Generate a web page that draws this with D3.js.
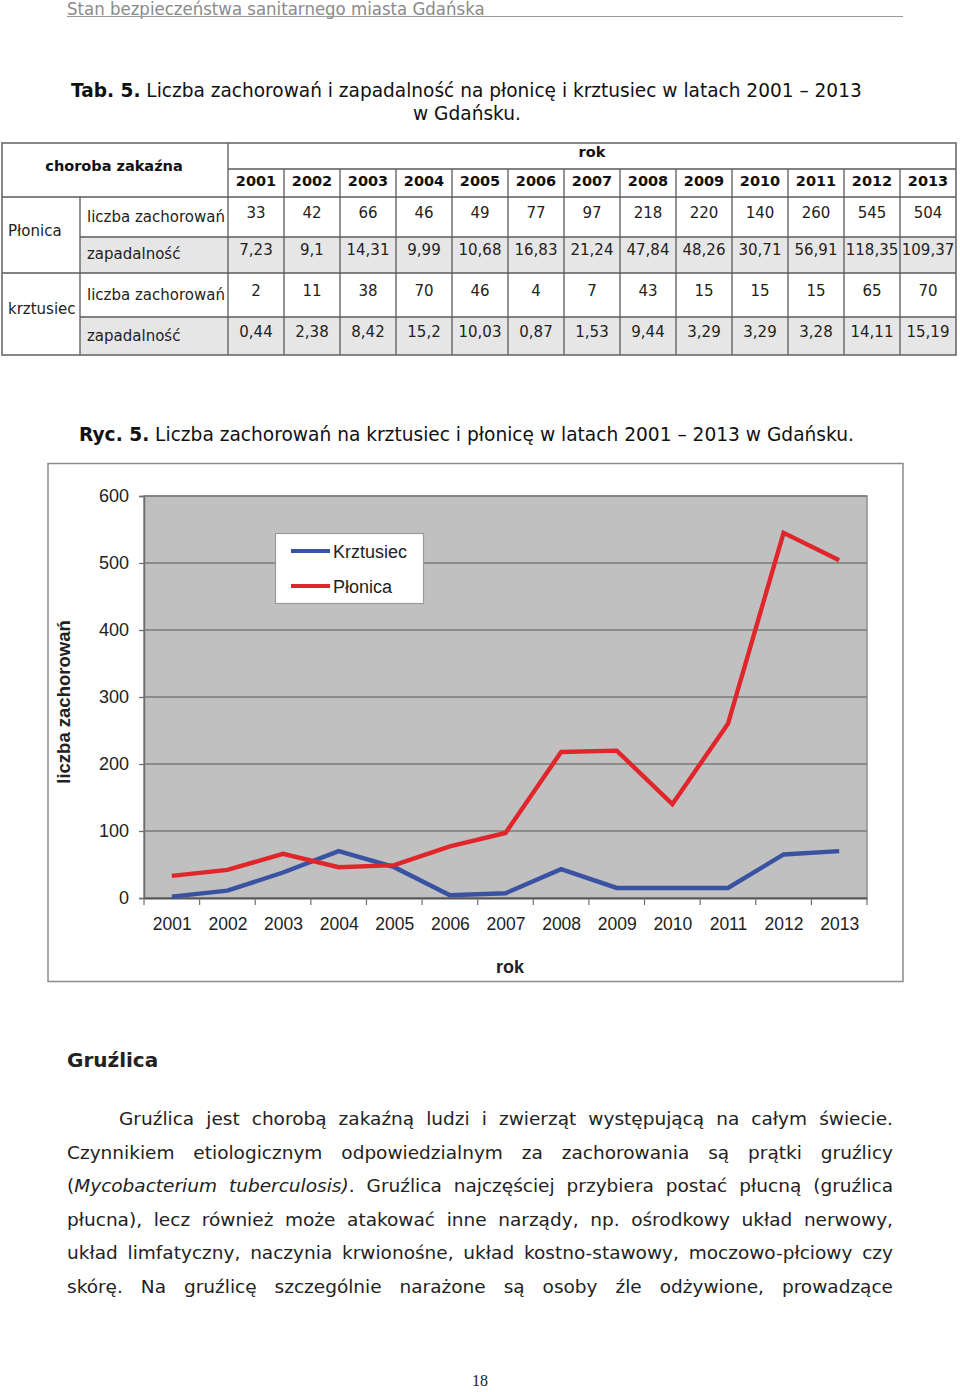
<!DOCTYPE html>
<html><head><meta charset="utf-8">
<script src="https://cdn.jsdelivr.net/npm/d3@7"></script>
<style>html,body{margin:0;padding:0;background:#fff}svg{display:block}</style>
</head><body>
<script>
// ---------- DATA ----------
const years = [2001,2002,2003,2004,2005,2006,2007,2008,2009,2010,2011,2012,2013];
const plonicaCases = [33,42,66,46,49,77,97,218,220,140,260,545,504];
const plonicaRate = ["7,23","9,1","14,31","9,99","10,68","16,83","21,24","47,84","48,26","30,71","56,91","118,35","109,37"];
const krztusiecCases = [2,11,38,70,46,4,7,43,15,15,15,65,70];
const krztusiecRate = ["0,44","2,38","8,42","15,2","10,03","0,87","1,53","9,44","3,29","3,29","3,28","14,11","15,19"];
const yTicks = [0,100,200,300,400,500,600];
const seriesNames = ["Krztusiec","Płonica"];
const seriesColors = ["#3a52a2","#e0262b"];
const paragraph = [
  [{t:"Gruźlica jest chorobą zakaźną ludzi i zwierząt występującą na całym świecie."}],
  [{t:"Czynnikiem etiologicznym odpowiedzialnym za zachorowania są prątki gruźlicy"}],
  [{t:"("},{t:"Mycobacterium tuberculosis)",i:true},{t:". Gruźlica najczęściej przybiera postać płucną (gruźlica",glue:true}],
  [{t:"płucna), lecz również może atakować inne narządy, np. ośrodkowy układ nerwowy,"}],
  [{t:"układ limfatyczny, naczynia krwionośne, układ kostno-stawowy, moczowo-płciowy czy"}],
  [{t:"skórę. Na gruźlicę szczególnie narażone są osoby źle odżywione, prowadzące"}]
];

const W=960,H=1392;
const svg=d3.select("body").append("svg").attr("width",W).attr("height",H);
const verd='"DejaVu Sans", Verdana, sans-serif';
const arial='"Liberation Sans", Arial, sans-serif';

function fitWidth(sel,x0,target){
  const w=sel.node().getBBox().width;
  const s=target/w;
  sel.attr("transform",`translate(${x0},0) scale(${s},1) translate(${-x0},0)`);
}

// ---------- header ----------
const hdr=svg.append("text").attr("x",67).attr("y",15).attr("font-family",verd).attr("font-size",17).attr("fill","#8a8a8a").text("Stan bezpieczeństwa sanitarnego miasta Gdańska");
fitWidth(hdr,67,418);
svg.append("line").attr("x1",67).attr("x2",903).attr("y1",16.5).attr("y2",16.5).attr("stroke","#9a9a9a").attr("stroke-width",1.2);

// ---------- table title ----------
const t1=svg.append("text").attr("x",71).attr("y",97).attr("font-family",verd).attr("font-size",19).attr("fill","#111");
t1.append("tspan").attr("font-weight","bold").text("Tab. 5.");
t1.append("tspan").text(" Liczba zachorowań i zapadalność na płonicę i krztusiec w latach 2001 – 2013");
fitWidth(t1,71,791);
const t2=svg.append("text").attr("x",413).attr("y",120).attr("font-family",verd).attr("font-size",19).attr("fill","#111").text("w Gdańsku.");
fitWidth(t2,413,108);

// ---------- table ----------
const tb=svg.append("g");
const colX=d3.scaleBand().domain(years).range([228,956]);
const lineC="#5a5a5a";
[[237,273],[317,355]].forEach(r=>{
  tb.append("rect").attr("x",80).attr("y",r[0]).attr("width",956-80).attr("height",r[1]-r[0]).attr("fill","#e6e6e6");
});
const hl=[[228,956,169],[2,956,197],[80,956,237],[2,956,273],[80,956,317]];
hl.forEach(l=>tb.append("line").attr("x1",l[0]).attr("x2",l[1]).attr("y1",l[2]).attr("y2",l[2]).attr("stroke",lineC).attr("stroke-width",1.3));
tb.append("line").attr("x1",80).attr("x2",80).attr("y1",197).attr("y2",355).attr("stroke",lineC).attr("stroke-width",1.3);
tb.append("line").attr("x1",228).attr("x2",228).attr("y1",143).attr("y2",355).attr("stroke",lineC).attr("stroke-width",1.3);
years.slice(1).forEach(y=>tb.append("line").attr("x1",colX(y)).attr("x2",colX(y)).attr("y1",169).attr("y2",355).attr("stroke",lineC).attr("stroke-width",1.3));
tb.append("rect").attr("x",2).attr("y",143).attr("width",954).attr("height",212).attr("fill","none").attr("stroke","#6a6a6a").attr("stroke-width",1.6);
tb.append("text").attr("x",114).attr("y",171).attr("text-anchor","middle").attr("font-family",verd).attr("font-weight","bold").attr("font-size",14.5).attr("fill","#111").text("choroba zakaźna");
tb.append("text").attr("x",592).attr("y",157).attr("text-anchor","middle").attr("font-family",verd).attr("font-weight","bold").attr("font-size",14.5).attr("fill","#111").text("rok");
tb.selectAll("text.yr").data(years).join("text").attr("class","yr").attr("x",d=>colX(d)+colX.bandwidth()/2).attr("y",186)
  .attr("text-anchor","middle").attr("font-family",verd).attr("font-weight","bold").attr("font-size",14.5).attr("fill","#111").text(d=>d);
tb.append("text").attr("x",8).attr("y",236).attr("font-family",verd).attr("font-size",15).attr("fill","#222").text("Płonica");
tb.append("text").attr("x",8).attr("y",314).attr("font-family",verd).attr("font-size",15).attr("fill","#222").text("krztusiec");
const rowDefs=[
  {label:"liczba zachorowań",vals:plonicaCases,y:218},
  {label:"zapadalność",vals:plonicaRate,y:255},
  {label:"liczba zachorowań",vals:krztusiecCases,y:296},
  {label:"zapadalność",vals:krztusiecRate,y:337}
];
rowDefs.forEach(r=>{
  tb.append("text").attr("x",87).attr("y",r.y+4).attr("font-family",verd).attr("font-size",15).attr("fill","#222").text(r.label);
  tb.selectAll(null).data(r.vals).join("text").attr("x",(d,i)=>colX(years[i])+colX.bandwidth()/2).attr("y",r.y)
    .attr("text-anchor","middle").attr("font-family",verd).attr("font-size",15).attr("fill","#222").text(d=>d);
});

// ---------- figure caption ----------
const rc=svg.append("text").attr("x",79).attr("y",441).attr("font-family",verd).attr("font-size",19).attr("fill","#111");
rc.append("tspan").attr("font-weight","bold").text("Ryc. 5.");
rc.append("tspan").text(" Liczba zachorowań na krztusiec i płonicę w latach 2001 – 2013 w Gdańsku.");
fitWidth(rc,79,776);

// ---------- chart ----------
svg.append("rect").attr("x",48).attr("y",463.5).attr("width",855).attr("height",518).attr("fill","#fff").attr("stroke","#8c8c8c").attr("stroke-width",1.5);
const pL=144,pR=867,pT=496,pB=898;
const x=d3.scalePoint().domain(years).range([pL,pR]).padding(0.5);
const xb=d3.scaleBand().domain(years).range([pL,pR]);
const y=d3.scaleLinear().domain([0,600]).range([pB,pT]);
const ch=svg.append("g");
ch.append("rect").attr("x",pL).attr("y",pT).attr("width",pR-pL).attr("height",pB-pT).attr("fill","#c0c0c1").attr("stroke","#8f8f8f").attr("stroke-width",1.5);
ch.selectAll("line.grid").data(yTicks.filter(d=>d>0)).join("line").attr("class","grid")
  .attr("x1",pL).attr("x2",pR).attr("y1",d=>y(d)).attr("y2",d=>y(d)).attr("stroke","#7a7a7a").attr("stroke-width",1.5);
const ya=ch.append("g").attr("transform",`translate(${pL},0)`).call(d3.axisLeft(y).tickValues(yTicks).tickSize(5).tickPadding(10).tickFormat(d3.format("d")));
ya.select(".domain").attr("stroke","#6e6e6e").attr("stroke-width",1.5);
ya.selectAll(".tick line").attr("stroke","#6e6e6e").attr("stroke-width",1.3);
ya.selectAll("text").attr("font-family",arial).attr("font-size",18).attr("fill","#222");
const xa=ch.append("g").attr("transform",`translate(0,${pB})`).call(d3.axisBottom(x).tickSize(0).tickPadding(20));
xa.select(".domain").attr("stroke","#555").attr("stroke-width",1.8);
xa.selectAll("text").attr("font-family",arial).attr("font-size",17.5).attr("fill","#222");
ch.selectAll("line.xt").data(d3.range(years.length+1)).join("line").attr("class","xt")
  .attr("x1",i=>pL+i*xb.step()).attr("x2",i=>pL+i*xb.step()).attr("y1",pB).attr("y2",pB+7).attr("stroke","#6e6e6e").attr("stroke-width",1.2);
ch.append("text").attr("x",510).attr("y",973).attr("text-anchor","middle").attr("font-family",arial).attr("font-weight","bold").attr("font-size",18).attr("fill","#222").text("rok");
ch.append("text").attr("transform","translate(70,702) rotate(-90)").attr("text-anchor","middle").attr("font-family",arial).attr("font-weight","bold").attr("font-size",18.5).attr("fill","#222").text("liczba zachorowań");
const line=d3.line().x((d,i)=>x(years[i])).y(d=>y(d));
[krztusiecCases,plonicaCases].forEach((s,k)=>{
  ch.append("path").datum(s).attr("d",line).attr("fill","none").attr("stroke",seriesColors[k]).attr("stroke-width",4.4).attr("stroke-linejoin","miter");
});
const lg=ch.append("g");
lg.append("rect").attr("x",275.5).attr("y",533.5).attr("width",148).attr("height",70).attr("fill","#fff").attr("stroke","#9a9a9a").attr("stroke-width",1.2);
seriesNames.forEach((n,k)=>{
  const yy=551+k*35;
  lg.append("line").attr("x1",291).attr("x2",330).attr("y1",yy).attr("y2",yy).attr("stroke",seriesColors[k]).attr("stroke-width",4);
  lg.append("text").attr("x",333).attr("y",yy+7).attr("font-family",arial).attr("font-size",18).attr("fill","#222").text(n);
});

// ---------- section text ----------
svg.append("text").attr("x",67).attr("y",1067).attr("font-family",verd).attr("font-weight","bold").attr("font-size",20).attr("fill","#222").text("Gruźlica");
const base0=1125, lh=33.5, L=67, R=893, indent=119;
paragraph.forEach((segs,li)=>{
  const words=[];
  segs.forEach((sg,si)=>{
    const parts=sg.t.split(" ");
    parts.forEach((p,pi)=>{
      if(p==="") return;
      if(pi===0 && si>0 && (sg.glue || segs[si-1].t.endsWith("(")) && words.length){
        words[words.length-1].push({t:p,i:!!sg.i});
      } else words.push([{t:p,i:!!sg.i}]);
    });
  });
  const yy=base0+li*lh;
  const x0=li===0?indent:L;
  const g=svg.append("g");
  const els=words.map(w=>{
    const te=g.append("text").attr("y",yy).attr("font-family",verd).attr("font-size",18.5).attr("fill","#222");
    w.forEach(p=>te.append("tspan").attr("font-style",p.i?"italic":"normal").text(p.t));
    return te;
  });
  const widths=els.map(e=>e.node().getComputedTextLength());
  const total=d3.sum(widths);
  let sx=1;
  const minGap=4;
  if(total+minGap*(words.length-1)>R-x0){ sx=(R-x0-minGap*(words.length-1))/total; }
  const gap=(R-x0-total*sx)/(words.length-1);
  let cx=x0;
  els.forEach((e,i)=>{
    e.attr("transform",`translate(${cx},0) scale(${sx},1)`).attr("x",0);
    cx+=widths[i]*sx+gap;
  });
});

svg.append("text").attr("x",480).attr("y",1386).attr("text-anchor","middle").attr("font-family",'"Liberation Serif", serif').attr("font-size",16).attr("fill","#222").text("18");
</script>
</body></html>
